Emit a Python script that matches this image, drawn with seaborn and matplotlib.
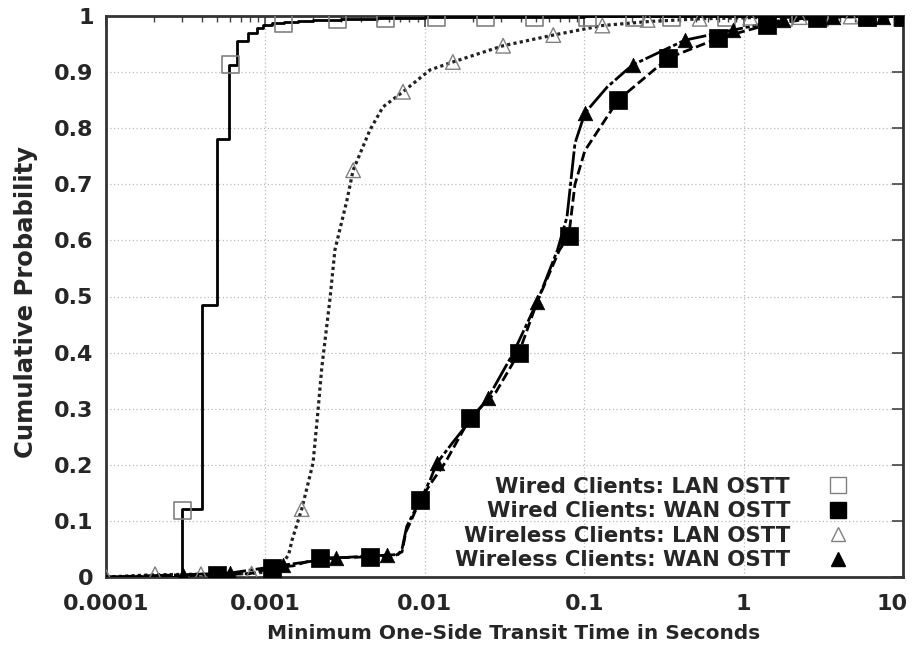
import numpy as np
import pandas as pd
import matplotlib
matplotlib.use("Agg")
import matplotlib.pyplot as plt
from matplotlib.lines import Line2D
from matplotlib.ticker import FixedLocator, LogLocator, NullFormatter, FixedFormatter
from matplotlib.transforms import ScaledTranslation
import seaborn as sns

# ---------------- data ----------------
wired_lan_x = [0.0001, 0.0003, 0.000398, 0.000497, 0.00059, 0.000663, 0.000778, 0.000886,
               0.000966, 0.0011, 0.0013, 0.0016, 0.002, 0.003, 0.005, 0.01, 0.03, 0.1, 0.5, 1, 10]
wired_lan_y = [0, 0.121, 0.485, 0.78, 0.913, 0.955, 0.97, 0.978,
               0.984, 0.987, 0.989, 0.991, 0.993, 0.995, 0.996, 0.998, 0.999, 0.9995, 0.9998, 1, 1]
wired_lan_mx = [0.0003, 0.0006, 0.00129, 0.00285, 0.0057, 0.0118, 0.0242, 0.049, 0.105,
                0.208, 0.355, 0.78, 1.77, 3.0, 6.0, 10]
wired_lan_my = [0.118, 0.913, 0.987, 0.993, 0.996, 0.997, 0.997, 0.997, 0.997,
                0.997, 0.997, 0.997, 0.997, 0.998, 0.998, 0.998]

wired_wan_x = [0.0001, 0.0003, 0.000497, 0.0008, 0.0011, 0.0015, 0.0022, 0.0035, 0.00453,
               0.0065, 0.0072, 0.0076, 0.0082, 0.00933, 0.0108, 0.0135, 0.0192, 0.028, 0.039,
               0.0506, 0.07, 0.080, 0.0875, 0.101, 0.163, 0.336, 0.69, 1.4, 2.89, 5.94, 10]
wired_wan_y = [0, 0.002, 0.004, 0.006, 0.016, 0.02, 0.034, 0.035, 0.036,
               0.038, 0.045, 0.08, 0.1, 0.137, 0.165, 0.205, 0.283, 0.33, 0.40,
               0.49, 0.583, 0.608, 0.70, 0.76, 0.85, 0.925, 0.96, 0.984, 0.997, 0.999, 1.0]
wired_wan_mx = [0.000497, 0.0011, 0.0022, 0.00453, 0.00933, 0.0192, 0.039, 0.080, 0.163,
                0.336, 0.69, 1.40, 2.89, 5.94, 10]
wired_wan_my = [0.004, 0.016, 0.034, 0.036, 0.137, 0.283, 0.40, 0.608, 0.85,
                0.925, 0.96, 0.984, 0.997, 0.998, 0.998]

wless_lan_x = [0.0001, 0.0002, 0.0004, 0.0008, 0.0011, 0.00125, 0.0014, 0.00147, 0.00169,
               0.00199, 0.00214, 0.00226, 0.00254, 0.00273, 0.00325, 0.00355, 0.00453, 0.00547,
               0.0073, 0.0108, 0.015, 0.031, 0.064, 0.13, 0.25, 0.53, 1.1, 2.25, 4.7, 10]
wless_lan_y = [0, 0.004, 0.005, 0.006, 0.01, 0.02, 0.04, 0.066, 0.121,
               0.203, 0.298, 0.374, 0.495, 0.583, 0.672, 0.725, 0.797, 0.838,
               0.865, 0.904, 0.918, 0.947, 0.966, 0.983, 0.99, 0.995, 0.997, 0.998, 0.999, 1.0]
wless_lan_mx = [0.0001, 0.000203, 0.000394, 0.00082, 0.00169, 0.00355, 0.0073, 0.015, 0.031,
                0.064, 0.13, 0.25, 0.53, 1.1, 2.25, 4.7]
wless_lan_my = [0, 0.005, 0.005, 0.006, 0.121, 0.725, 0.865, 0.918, 0.947,
                0.966, 0.983, 0.993, 0.995, 0.997, 0.998, 0.999]

wless_wan_x = [0.0001, 0.000304, 0.0006, 0.00129, 0.00277, 0.0058, 0.0068, 0.0072, 0.0077,
               0.0085, 0.0095, 0.0108, 0.0119, 0.015, 0.0249, 0.036, 0.0506, 0.068, 0.078,
               0.0875, 0.101, 0.139, 0.185, 0.202, 0.429, 0.857, 1.77, 3.64, 7.5, 10]
wless_wan_y = [0, 0.004, 0.007, 0.021, 0.034, 0.039, 0.04, 0.05, 0.09,
               0.114, 0.14, 0.173, 0.203, 0.24, 0.319, 0.40, 0.49, 0.583, 0.642,
               0.773, 0.827, 0.873, 0.904, 0.913, 0.957, 0.975, 0.993, 0.999, 1.0, 1.0]
wless_wan_mx = [0.000304, 0.0006, 0.00129, 0.00277, 0.0058, 0.0119, 0.0249, 0.0506, 0.101,
                0.202, 0.429, 0.857, 1.77, 3.64, 7.5]
wless_wan_my = [0.004, 0.007, 0.021, 0.034, 0.039, 0.203, 0.319, 0.49, 0.827,
                0.913, 0.957, 0.975, 0.993, 0.998, 0.998]

series_labels = ["Wired Clients: LAN OSTT", "Wired Clients: WAN OSTT",
                 "Wireless Clients: LAN OSTT", "Wireless Clients: WAN OSTT"]
x_tick_vals = [0.0001, 0.001, 0.01, 0.1, 1, 10]
x_tick_labels = ["0.0001", "0.001", "0.01", "0.1", "1", "10"]
y_tick_vals = [0, 0.1, 0.2, 0.3, 0.4, 0.5, 0.6, 0.7, 0.8, 0.9, 1]
y_tick_labels = ["0", "0.1", "0.2", "0.3", "0.4", "0.5", "0.6", "0.7", "0.8", "0.9", "1"]
x_label = "Minimum One-Side Transit Time in Seconds"
y_label = "Cumulative Probability"

# ---------------- style ----------------
sns.set_style("white")
plt.rcParams['font.family'] = ['DejaVu Sans']
plt.rcParams['font.weight'] = 'bold'

fig = plt.figure(figsize=(9.13, 6.49), dpi=100)
ax = fig.add_axes([106/913, 1-577/649, (903-106)/913, (577-16)/649])
ax.set_xscale('log')

def df(x, y):
    return pd.DataFrame({"x": x, "y": y})

# lines
sns.lineplot(data=df(wless_lan_x, wless_lan_y), x="x", y="y", ax=ax, color="#222222",
             lw=2.3, linestyle=(0, (1, 1)), estimator=None, sort=False, zorder=3)
sns.lineplot(data=df(wired_wan_x, wired_wan_y), x="x", y="y", ax=ax, color="black",
             lw=2.0, linestyle=(0, (3.5, 1.5)), estimator=None, sort=False, zorder=3)
sns.lineplot(data=df(wless_wan_x, wless_wan_y), x="x", y="y", ax=ax, color="black",
             lw=2.0, linestyle=(0, (10, 1, 1.5, 1)), estimator=None, sort=False, zorder=3)
sns.lineplot(data=df(wired_lan_x, wired_lan_y), x="x", y="y", ax=ax, color="black",
             lw=2.0, drawstyle='steps-post', estimator=None, sort=False, zorder=4)

# markers
sns.scatterplot(data=df(wired_lan_mx, wired_lan_my), x="x", y="y", ax=ax, marker="s", s=150,
                facecolor="none", edgecolor="#808080", linewidth=1.2, zorder=5)
sns.scatterplot(data=df(wless_lan_mx, wless_lan_my), x="x", y="y", ax=ax, marker="^", s=110,
                facecolor="none", edgecolor="#808080", linewidth=1.0, zorder=5)
sns.scatterplot(data=df(wired_wan_mx, wired_wan_my), x="x", y="y", ax=ax, marker="s", s=150,
                color="black", edgecolor="black", linewidth=0.5, zorder=6)
sns.scatterplot(data=df(wless_wan_mx, wless_wan_my), x="x", y="y", ax=ax, marker="^", s=110,
                color="black", edgecolor="black", linewidth=0.5, zorder=6)

ax.set_xlim(0.0001, 10)
ax.set_ylim(0, 1)
ax.xaxis.set_major_locator(FixedLocator(x_tick_vals))
ax.xaxis.set_major_formatter(FixedFormatter(x_tick_labels))
ax.xaxis.set_minor_locator(LogLocator(base=10, subs=np.arange(2, 10), numticks=20))
ax.xaxis.set_minor_formatter(NullFormatter())
ax.yaxis.set_major_locator(FixedLocator(y_tick_vals))
ax.yaxis.set_major_formatter(FixedFormatter(y_tick_labels))

ax.tick_params(which='both', direction='in', top=True, right=True, color='#444444')
ax.tick_params(which='major', length=8, width=1.2, labelsize=16)
ax.tick_params(axis='x', which='major', pad=12)
ax.tick_params(axis='y', which='major', pad=9)
ax.tick_params(which='minor', length=4, width=1.0)

ax.grid(True, which='major', color='#bbbbbb', linestyle=(0, (1, 2)), linewidth=0.9)
ax.set_axisbelow(True)
for sp in ax.spines.values():
    sp.set_linewidth(2.0)
    sp.set_color('#333333')

ax.set_xlabel(x_label, fontsize=14.5, fontweight='bold')
ax.set_ylabel(y_label, fontsize=17.5, fontweight='bold')
ax.xaxis.set_label_coords(0.511, -0.083)
ax.yaxis.set_label_coords(-0.085, 0.49)

handles = [
    Line2D([], [], marker='s', linestyle='none', markersize=11, markerfacecolor='none',
           markeredgecolor='#808080', markeredgewidth=1.0),
    Line2D([], [], marker='s', linestyle='none', markersize=11, markerfacecolor='black',
           markeredgecolor='black'),
    Line2D([], [], marker='^', linestyle='none', markersize=10, markerfacecolor='none',
           markeredgecolor='#808080', markeredgewidth=1.0),
    Line2D([], [], marker='^', linestyle='none', markersize=10, markerfacecolor='black',
           markeredgecolor='black'),
]
leg = ax.legend(handles, series_labels, loc='lower right', bbox_to_anchor=(0.9316, 0.012),
                markerfirst=False, frameon=False, labelspacing=0.21,
                handletextpad=1.75, handlelength=1.0, borderaxespad=0.0, borderpad=0.0,
                prop={'weight': 'bold', 'size': 15.3})
for t in leg.get_texts():
    t.set_ha('right')
leg._legend_box.align = "right"

# keep the right-most x tick label ("10") inside the figure, as in the reference
fig.canvas.draw()
last = ax.xaxis.get_major_ticks()[-1].label1
last.set_transform(last.get_transform() + ScaledTranslation(-8/72, 0, fig.dpi_scale_trans))

fig.savefig("out.png", dpi=100)
